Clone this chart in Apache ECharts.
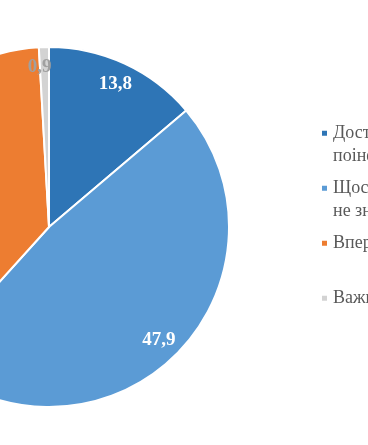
<!DOCTYPE html>
<html><head><meta charset="utf-8">
<script src="https://cdn.jsdelivr.net/npm/echarts@6/dist/echarts.min.js"></script>
<style>html,body{margin:0;padding:0;background:#fff}#c{width:368px;height:445px}</style>
</head><body><div id="c"></div>
<script>
const categories = ['Достатньо поінформований(-а)', 'Щось чув(-ла), але не знаю деталей', 'Вперше чую', 'Важко відповісти'];
const legendLines = [['Достатньо', 'поінформований(-а)'], ['Щось чув(-ла), але', 'не знаю деталей'], ['Вперше чую', ' '], ['Важко відповісти', ' ']];
const values = [13.8, 47.9, 37.4, 0.9];
const colors = ['#2E75B6', '#5B9BD5', '#ED7D31', '#D3D3D3'];
const labelColors = ['#ffffff', '#ffffff', '#ffffff', '#a0a0a0'];
const labelOffsets = [[0, 0], [0, 0], [0, 0], [-5, -2]];

const chart = echarts.init(document.getElementById('c'), null, {renderer: 'canvas'});
const fmt = v => String(v).replace('.', ',');
chart.setOption({
  animation: false,
  color: colors,
  legend: {
    orient: 'vertical', left: 320, top: 98, padding: 0,
    itemWidth: 7, itemHeight: 7, itemGap: -15.5, icon: 'rect',
    data: categories,
    formatter: name => ' \n' + legendLines[categories.indexOf(name)].join('\n'),
    textStyle: {fontFamily: 'Liberation Serif', fontSize: 18, color: '#595959', lineHeight: 23.5}
  },
  series: [{
    type: 'pie', center: [49, 227], radius: [0, 180], startAngle: 90, clockwise: true,
    silent: true, legendHoverLink: false,
    itemStyle: {borderColor: '#fff', borderWidth: 2},
    label: {show: false}, labelLine: {show: false},
    data: categories.map((n, i) => ({name: n, value: values[i], itemStyle: {color: colors[i]}}))
  }, {
    type: 'pie', center: [49, 227], radius: [0, 310], startAngle: 90, clockwise: true,
    silent: true, legendHoverLink: false, z: 5,
    itemStyle: {color: 'rgba(0,0,0,0)', borderWidth: 0},
    label: {show: true, position: 'inside', fontFamily: 'Liberation Serif', fontWeight: 'bold', fontSize: 19,
      formatter: p => fmt(p.value)},
    labelLine: {show: false},
    data: categories.map((n, i) => ({name: n, value: values[i], label: {color: labelColors[i], offset: labelOffsets[i]}}))
  }]
});
</script></body></html>
